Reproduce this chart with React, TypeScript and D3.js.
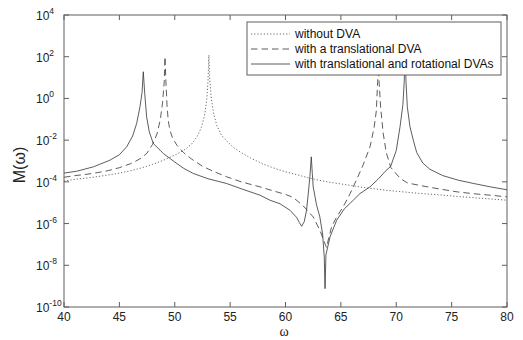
import React from "react";
import * as d3 from "d3";

// ω, log10 M(ω)
const withoutDVA: [number, number][] = [
  [40, -3.96], [41, -3.88], [42, -3.82], [43, -3.75], [44, -3.67], [45, -3.58],
  [46, -3.47], [47, -3.33], [48, -3.16], [49, -2.96], [50, -2.72], [50.5, -2.58],
  [51, -2.42], [51.5, -2.2], [52, -1.85], [52.4, -1.4], [52.7, -0.8], [52.9, 0.0],
  [53.0, 0.8], [53.08, 2.08], [53.15, 1.0], [53.3, 0.0], [53.5, -0.7], [53.8, -1.3],
  [54.2, -1.75], [54.7, -2.05], [55.3, -2.35], [56, -2.6], [57, -2.9], [58, -3.15],
  [59, -3.35], [60, -3.52], [61, -3.65], [62, -3.8], [63, -3.92], [64, -4.02],
  [65, -4.1], [66, -4.18], [67, -4.27], [68, -4.33], [69, -4.4], [70, -4.45],
  [72, -4.55], [74, -4.63], [76, -4.72], [78, -4.8], [80, -4.88],
];

const withTranslationalDVA: [number, number][] = [
  [40, -3.78], [41, -3.7], [42, -3.64], [43, -3.56], [44, -3.46], [45, -3.32],
  [46, -3.13], [46.5, -3.0], [47, -2.85], [47.5, -2.62], [48, -2.2], [48.4, -1.7],
  [48.7, -1.0], [48.9, -0.2], [49.05, 0.8], [49.12, 2.0], [49.2, 0.8], [49.3, -0.3],
  [49.4, -1.0], [49.55, -1.5], [49.8, -1.9], [50.2, -2.25], [50.8, -2.6], [51.5, -2.9],
  [52.5, -3.25], [53.5, -3.5], [54.7, -3.76], [56, -4.0], [57.7, -4.24], [59, -4.45],
  [60, -4.6], [60.7, -4.75], [61.6, -5.15], [62.5, -5.68], [63.1, -6.32], [63.45, -6.8],
  [63.7, -7.15], [63.9, -6.7], [64.16, -6.16], [64.6, -5.7], [65.2, -5.2], [65.8, -4.6],
  [66.4, -3.92], [67.0, -3.2], [67.63, -2.32], [68.0, -1.4], [68.2, -0.6], [68.32, 0.8],
  [68.38, 2.5], [68.45, 0.8], [68.6, -0.5], [68.83, -1.7], [69.1, -2.6], [69.5, -3.3],
  [69.8, -3.5], [70.4, -3.85], [71, -4.05], [72.4, -4.2], [74, -4.35], [75.5, -4.48],
  [77, -4.57], [78.5, -4.64], [80, -4.72],
];

const withTransRotDVAs: [number, number][] = [
  [40, -3.58], [41.15, -3.49], [42.65, -3.28], [44.15, -2.96], [45.0, -2.7], [45.66, -2.32],
  [46.2, -1.8], [46.56, -1.2], [46.86, -0.4], [47.05, 0.3], [47.16, 1.28], [47.28, 0.3],
  [47.46, -0.88], [47.7, -1.6], [48.06, -2.16], [48.67, -2.48], [48.97, -2.64], [50, -3.05],
  [50.8, -3.35], [51.68, -3.6], [53, -3.85], [54.69, -4.08], [56, -4.33], [57.7, -4.64],
  [58.6, -4.88], [59.5, -5.05], [60.4, -5.36], [61.0, -5.7], [61.25, -5.95], [61.46, -6.13],
  [61.7, -5.9], [61.9, -5.36], [62.05, -4.6], [62.2, -3.76], [62.33, -2.8], [62.42, -3.6],
  [62.5, -4.24], [62.8, -5.1], [63.1, -5.68], [63.35, -6.5], [63.5, -7.6], [63.57, -9.12],
  [63.65, -7.5], [64.02, -6.64], [64.62, -5.84], [65.3, -5.3], [66.12, -4.88], [66.73, -4.56],
  [67.63, -4.24], [68.4, -3.85], [69.0, -3.5], [69.5, -3.25], [70.0, -2.5], [70.34, -1.36],
  [70.6, -0.3], [70.72, 0.8], [70.8, 2.5], [70.88, 0.8], [71.0, -0.4], [71.24, -1.36],
  [71.54, -2.0], [71.85, -2.6], [72.4, -3.1], [73.05, -3.4], [74.2, -3.7], [75.6, -3.92],
  [77, -4.08], [78.5, -4.24], [80, -4.38],
];

const xTicks = [40, 45, 50, 55, 60, 65, 70, 75, 80];
const yExponents = [4, 2, 0, -2, -4, -6, -8, -10];
const legendLabels = [
  "without DVA",
  "with a translational DVA",
  "with translational and rotational DVAs",
];

const W = 523;
const H = 340;
const m = { left: 64, right: 507, top: 15, bottom: 307 };

export default function App() {
  const x = d3.scaleLinear().domain([40, 80]).range([m.left, m.right]);
  const y = d3.scaleLog().domain([1e-10, 1e4]).range([m.bottom, m.top]);

  const line = d3
    .line<[number, number]>()
    .x((d) => x(d[0]))
    .y((d) => y(Math.pow(10, d[1])));

  const series = [
    { data: withoutDVA, dash: "1.2,2", width: 0.8, color: "#444" },
    { data: withTranslationalDVA, dash: "6.5,4", width: 0.8, color: "#333" },
    { data: withTransRotDVAs, dash: "", width: 0.8, color: "#333" },
  ];

  const frame = "#5e5e5e";
  const tickLen = 5;
  const font = "'Liberation Sans', Arial, sans-serif";

  const lg = { x: 247, y: 22, w: 254, h: 53 };
  const rowY = [34, 49, 64];

  return (
    <svg
      width={W}
      height={H}
      style={{ position: "absolute", left: 0, top: 0, background: "#fff" }}
    >
      <rect x={0} y={0} width={W} height={H} fill="#fff" />
      <defs>
        <clipPath id="plotClip">
          <rect x={m.left} y={m.top} width={m.right - m.left} height={m.bottom - m.top} />
        </clipPath>
      </defs>

      <g clipPath="url(#plotClip)">
        {series.map((s, i) => (
          <path
            key={i}
            d={line(s.data) || ""}
            fill="none"
            stroke={s.color}
            strokeWidth={s.width}
            strokeDasharray={s.dash || undefined}
          />
        ))}
      </g>

      {/* frame */}
      <rect
        x={m.left}
        y={m.top}
        width={m.right - m.left}
        height={m.bottom - m.top}
        fill="none"
        stroke={frame}
        strokeWidth={1}
      />

      {/* x ticks */}
      {xTicks.map((t) => (
        <g key={"x" + t}>
          <line x1={x(t)} x2={x(t)} y1={m.bottom} y2={m.bottom - tickLen} stroke={frame} />
          <line x1={x(t)} x2={x(t)} y1={m.top} y2={m.top + tickLen} stroke={frame} />
          <text
            x={x(t)}
            y={m.bottom + 14}
            textAnchor="middle"
            fontFamily={font}
            fontSize={12}
            fill="#222"
          >
            {t}
          </text>
        </g>
      ))}

      {/* y ticks */}
      {yExponents.map((e) => {
        const yy = y(Math.pow(10, e));
        return (
          <g key={"y" + e}>
            <line x1={m.left} x2={m.left + tickLen} y1={yy} y2={yy} stroke={frame} />
            <line x1={m.right} x2={m.right - tickLen} y1={yy} y2={yy} stroke={frame} />
            <text x={36} y={yy + 5} fontFamily={font} fontSize={12} fill="#222">
              10
              <tspan dy={-6} fontSize={8.5}>
                {e}
              </tspan>
            </text>
          </g>
        );
      })}

      {/* axis labels */}
      <text
        x={284}
        y={336}
        textAnchor="middle"
        fontFamily="'Liberation Serif', 'Times New Roman', serif"
        fontSize={14}
        fill="#222"
      >
        ω
      </text>
      <text
        transform={`translate(25,165) rotate(-90)`}
        textAnchor="middle"
        fontFamily={font}
        fontSize={16}
        fill="#222"
      >
        M(ω)
      </text>

      {/* legend */}
      <rect x={lg.x} y={lg.y} width={lg.w} height={lg.h} fill="#fff" stroke={frame} strokeWidth={1} />
      {series.map((s, i) => (
        <g key={"lg" + i}>
          <line
            x1={251}
            x2={290}
            y1={rowY[i]}
            y2={rowY[i]}
            stroke={s.color}
            strokeWidth={s.width}
            strokeDasharray={s.dash || undefined}
          />
          <text x={295} y={rowY[i] + 4} fontFamily={font} fontSize={12} fill="#111">
            {legendLabels[i]}
          </text>
        </g>
      ))}
    </svg>
  );
}
